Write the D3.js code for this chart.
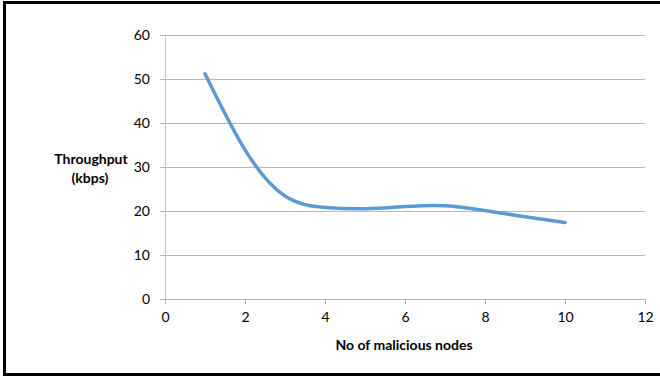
<!DOCTYPE html>
<html>
<head>
<meta charset="utf-8">
<script src="https://cdn.jsdelivr.net/npm/d3@7"></script>
<style>
  body { margin: 0; background: #fff; }
  text { font-family: Lato, "Open Sans", sans-serif; fill: #000; }
</style>
</head>
<body>
<div id="chart-area"></div>
<script>
// data
var nodes = [1, 2, 3, 4, 5, 6, 7, 8, 9, 10];
var throughput = [51.2, 33.9, 23.4, 20.8, 20.5, 21.0, 21.2, 20.1, 18.7, 17.4];
var xTicks = [0, 2, 4, 6, 8, 10, 12];
var yTicks = [0, 10, 20, 30, 40, 50, 60];

var width = 660, height = 376;
var margin = {top: 35, right: 15, bottom: 77, left: 165};
var chartWidth = 480, chartHeight = 264;

var svg = d3.select("#chart-area").append("svg").attr("width", width).attr("height", height);

// outer frame (right side is cut off in the original)
svg.append("path").attr("d", "M660,2.5 H4.5 V374.5 H660")
    .attr("fill", "none").attr("stroke", "#000").attr("stroke-width", 3);

var g = svg.append("g").attr("transform", "translate(" + margin.left + ", " + margin.top + ")");

var x = d3.scaleLinear().domain([0, 12]).range([0, chartWidth]);
var y = d3.scaleLinear().domain([0, 60]).range([chartHeight, 0]);

// gridlines
g.append("g").attr("class", "grid").selectAll("line").data(yTicks.filter((d) => d > 0)).enter()
    .append("line").attr("x1", 0).attr("x2", chartWidth)
    .attr("y1", (d) => Math.round(y(d)) + 0.5).attr("y2", (d) => Math.round(y(d)) + 0.5)
    .attr("stroke", "#b8b8b8").attr("stroke-width", 1);

var xAxis = d3.axisBottom(x).tickValues(xTicks).tickSizeInner(5).tickSizeOuter(0).tickPadding(8);
var xg = g.append("g").attr("transform", "translate(0, " + chartHeight + ")").call(xAxis);
xg.select(".domain").attr("stroke", "#b8b8b8");
xg.selectAll(".tick line").attr("stroke", "#b8b8b8");
xg.selectAll("text").attr("font-size", "14px").attr("font-family", "Lato, sans-serif").attr("fill", "#000");

var yAxis = d3.axisLeft(y).tickValues(yTicks).tickSizeInner(5).tickSizeOuter(0).tickPadding(10);
var yg = g.append("g").call(yAxis);
yg.select(".domain").attr("stroke", "#c8c8c8");
yg.selectAll(".tick line").attr("stroke", "#b8b8b8");
yg.selectAll("text").attr("font-size", "14px").attr("font-family", "Lato, sans-serif").attr("fill", "#000");

// series, smoothed like the spreadsheet line
var line = d3.line().x((d, i) => x(nodes[i])).y((d) => y(d)).curve(d3.curveNatural);
g.append("path").datum(throughput).attr("d", line)
    .attr("fill", "none").attr("stroke", "#5b9bd5").attr("stroke-width", 3.5)
    .attr("stroke-linecap", "round").attr("stroke-linejoin", "round");

// axis titles
svg.append("text").attr("x", 404).attr("y", 350).attr("text-anchor", "middle")
    .attr("font-size", "14px").attr("font-weight", "bold").text("No of malicious nodes");

var yt = svg.append("text").attr("text-anchor", "middle").attr("font-size", "14px").attr("font-weight", "bold");
yt.append("tspan").attr("x", 91).attr("y", 164).text("Throughput");
yt.append("tspan").attr("x", 90).attr("y", 183).text("(kbps)");
</script>
</body>
</html>
